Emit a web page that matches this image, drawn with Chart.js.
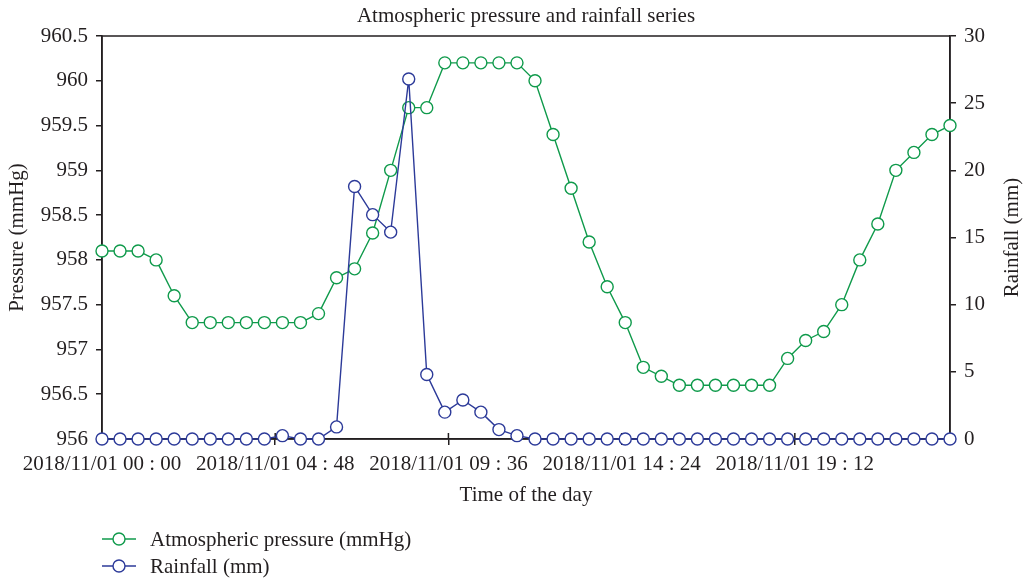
<!DOCTYPE html>
<html>
<head>
<meta charset="utf-8">
<title>Atmospheric pressure and rainfall series</title>
<script src="https://cdn.jsdelivr.net/npm/chart.js@4"></script>
<style>
  html, body { margin: 0; padding: 0; background: #fff; }
  #wrap { width: 1023px; height: 580px; position: relative; }
</style>
</head>
<body>
<div id="wrap"><canvas id="chart"></canvas></div>
<script>
// hours since 2018/11/01 00:00, one reading every half hour
const hours = [0, 0.5, 1, 1.5, 2, 2.5, 3, 3.5, 4, 4.5, 5, 5.5, 6, 6.5, 7, 7.5,
  8, 8.5, 9, 9.5, 10, 10.5, 11, 11.5, 12, 12.5, 13, 13.5, 14, 14.5, 15, 15.5,
  16, 16.5, 17, 17.5, 18, 18.5, 19, 19.5, 20, 20.5, 21, 21.5, 22, 22.5, 23, 23.5];

const pressure = [958.1, 958.1, 958.1, 958.0, 957.6, 957.3, 957.3, 957.3, 957.3, 957.3, 957.3, 957.3,
  957.4, 957.8, 957.9, 958.3, 959.0, 959.7, 959.7, 960.2, 960.2, 960.2, 960.2, 960.2,
  960.0, 959.4, 958.8, 958.2, 957.7, 957.3, 956.8, 956.7, 956.6, 956.6, 956.6, 956.6,
  956.6, 956.6, 956.9, 957.1, 957.2, 957.5, 958.0, 958.4, 959.0, 959.2, 959.4, 959.5];

const rainfall = [0, 0, 0, 0, 0, 0, 0, 0, 0, 0, 0.25, 0,
  0, 0.9, 18.8, 16.7, 15.4, 26.8, 4.8, 2.0, 2.9, 2.0, 0.7, 0.25,
  0, 0, 0, 0, 0, 0, 0, 0, 0, 0, 0, 0,
  0, 0, 0, 0, 0, 0, 0, 0, 0, 0, 0, 0];

const tickHours = [0, 4.8, 9.6, 14.4, 19.2];
const tickLabels = ['2018/11/01 00 : 00', '2018/11/01 04 : 48', '2018/11/01 09 : 36',
  '2018/11/01 14 : 24', '2018/11/01 19 : 12'];

const seriesNames = ['Atmospheric pressure (mmHg)', 'Rainfall (mm)'];
const GREEN = '#0f9a4b';
const BLUE = '#2c3a99';
const INK = '#231f20';
const FONT = '"Liberation Serif", "DejaVu Serif", serif';

Chart.defaults.font.family = FONT;
Chart.defaults.font.size = 21;
Chart.defaults.color = INK;

// box round the plot, inner halves of the x ticks, title, right axis title and legend
const extras = {
  id: 'extras',
  beforeDatasetsDraw(chart) {
    const { ctx, chartArea: a } = chart;
    const xs = chart.scales.x;
    ctx.save();
    ctx.strokeStyle = INK;
    ctx.lineWidth = 1.5;
    ctx.strokeRect(a.left, a.top, a.right - a.left, a.bottom - a.top);
    xs.ticks.forEach(t => {
      const px = xs.getPixelForValue(t.value);
      ctx.beginPath();
      ctx.moveTo(px, a.bottom);
      ctx.lineTo(px, a.bottom - 6);
      ctx.stroke();
    });
    ctx.restore();
  },
  afterDraw(chart) {
    const { ctx, chartArea: a } = chart;
    ctx.save();
    ctx.fillStyle = INK;
    ctx.font = '21px ' + FONT;
    ctx.textAlign = 'center';
    ctx.textBaseline = 'middle';
    ctx.fillText('Atmospheric pressure and rainfall series', (a.left + a.right) / 2, 16);

    ctx.translate(1012, (a.top + a.bottom) / 2);
    ctx.rotate(-Math.PI / 2);
    ctx.fillText('Rainfall (mm)', 0, 0);
    ctx.restore();

    // legend
    const colors = [GREEN, BLUE];
    const rows = [539, 566];
    ctx.save();
    ctx.font = '21px ' + FONT;
    ctx.textAlign = 'left';
    ctx.textBaseline = 'middle';
    seriesNames.forEach((name, i) => {
      const y = rows[i];
      ctx.strokeStyle = colors[i];
      ctx.lineWidth = 1.4;
      ctx.beginPath();
      ctx.moveTo(102, y);
      ctx.lineTo(136, y);
      ctx.stroke();
      ctx.beginPath();
      ctx.arc(119, y, 6, 0, Math.PI * 2);
      ctx.fillStyle = '#fff';
      ctx.fill();
      ctx.stroke();
      ctx.fillStyle = INK;
      ctx.fillText(name, 150, y + 1);
    });
    ctx.restore();
  }
};

new Chart(document.getElementById('chart'), {
  type: 'line',
  data: {
    datasets: [
      {
        label: seriesNames[0],
        data: hours.map((h, i) => ({ x: h, y: pressure[i] })),
        yAxisID: 'yP',
        borderColor: GREEN,
        backgroundColor: '#fff',
        borderWidth: 1.4,
        pointRadius: 6,
        pointBorderWidth: 1.4,
        pointBackgroundColor: '#fff',
        tension: 0,
        clip: false,
        order: 1
      },
      {
        label: seriesNames[1],
        data: hours.map((h, i) => ({ x: h, y: rainfall[i] })),
        yAxisID: 'yR',
        borderColor: BLUE,
        backgroundColor: '#fff',
        borderWidth: 1.4,
        pointRadius: 6,
        pointBorderWidth: 1.4,
        pointBackgroundColor: '#fff',
        tension: 0,
        clip: false,
        order: 0
      }
    ]
  },
  options: {
    responsive: true,
    maintainAspectRatio: false,
    animation: false,
    layout: { padding: { top: 36, bottom: 71, left: 0, right: 0 } },
    plugins: {
      legend: { display: false },
      title: { display: false },
      tooltip: { enabled: false }
    },
    scales: {
      x: {
        type: 'linear',
        min: 0,
        max: 23.5,
        afterBuildTicks: s => { s.ticks = tickHours.map(v => ({ value: v })); },
        afterFit: s => { s.height = 70; },
        ticks: {
          padding: 7,
          maxRotation: 0,
          autoSkip: false,
          callback: v => tickLabels[tickHours.indexOf(v)]
        },
        grid: { drawOnChartArea: false, tickLength: 6, color: INK, lineWidth: 1.5 },
        border: { display: true, color: INK, width: 1.5 },
        title: { display: true, text: 'Time of the day', padding: { top: 0, bottom: 1 } }
      },
      yP: {
        type: 'linear',
        position: 'left',
        min: 956,
        max: 960.5,
        afterFit: s => { s.width = 102; },
        ticks: { stepSize: 0.5, padding: 8, callback: v => String(v) },
        grid: { drawOnChartArea: false, tickLength: 6, color: INK, lineWidth: 1.5 },
        border: { display: true, color: INK, width: 1.5 },
        title: { display: true, text: 'Pressure (mmHg)', padding: { top: 5, bottom: 0 } }
      },
      yR: {
        type: 'linear',
        position: 'right',
        min: 0,
        max: 30,
        afterFit: s => { s.width = 73; },
        ticks: { stepSize: 5, padding: 8 },
        grid: { drawOnChartArea: false, tickLength: 6, color: INK, lineWidth: 1.5 },
        border: { display: true, color: INK, width: 1.5 }
      }
    }
  },
  plugins: [extras]
});
</script>
</body>
</html>
